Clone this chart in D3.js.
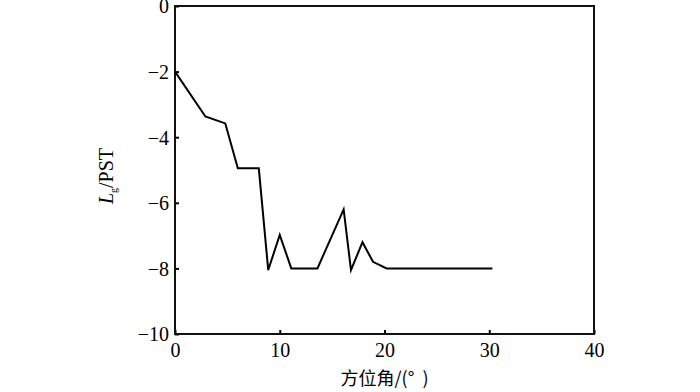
<!DOCTYPE html>
<meta charset="utf-8">
<html>
<head>
<script src="https://d3js.org/d3.v7.min.js"></script>
<style>
  body { margin: 0; background: #fff; }
</style>
</head>
<body>
<div id="chart"></div>
<script>
// azimuth (deg) and Lg / PST values
var azimuth = [0, 2.9, 4.8, 6, 8, 8.9, 10, 11.1, 13.6, 16.1, 16.8, 17.9, 18.9, 20.2, 30.3];
var lgValues = [-2.0, -3.37, -3.58, -4.95, -4.95, -8.05, -6.98, -8, -8, -6.2, -8.05, -7.2, -7.8, -8, -8];
var xTicks = [0, 10, 20, 30, 40];
var yTicks = [0, -2, -4, -6, -8, -10];

var W = 700, H = 392,
    margin = { top: 6, right: 106, bottom: 58, left: 175 },
    width = W - margin.left - margin.right,
    height = H - margin.top - margin.bottom;

var svg = d3.select("#chart").append("svg")
    .attr("width", W)
    .attr("height", H);

var g = svg.append("g")
    .attr("transform", "translate(" + margin.left + "," + margin.top + ")");

var x = d3.scaleLinear().domain([0, 40]).range([0, width]);
var y = d3.scaleLinear().domain([-10, 0]).range([height, 0]);

var fmt = function(d) { return d < 0 ? "\u2212" + Math.abs(d) : String(d); };

// bottom axis, ticks inside
var xAxis = g.append("g")
    .attr("transform", "translate(0," + height + ")")
    .call(d3.axisBottom(x).tickValues(xTicks).tickSize(-4).tickPadding(9).tickFormat(fmt))
    .attr("font-family", "Liberation Serif")
    .attr("font-size", 20);

var yAxis = g.append("g")
    .call(d3.axisLeft(y).tickValues(yTicks).tickSize(-4).tickPadding(6).tickFormat(fmt))
    .attr("font-family", "Liberation Serif")
    .attr("font-size", 20);

xAxis.select(".domain").remove();
yAxis.select(".domain").remove();
g.selectAll(".tick line").attr("stroke", "#000").attr("stroke-width", 2);
g.selectAll(".tick text").attr("fill", "#000");
yAxis.selectAll(".tick text").attr("dy", "0.34em");

// frame
g.append("rect")
    .attr("x", 0).attr("y", 0)
    .attr("width", width).attr("height", height)
    .attr("fill", "none")
    .attr("stroke", "#111")
    .attr("stroke-width", 2);

var line = d3.line()
    .x(function(d, i) { return x(azimuth[i]); })
    .y(function(d) { return y(d); });

g.append("path")
    .datum(lgValues)
    .attr("d", line)
    .attr("fill", "none")
    .attr("stroke", "#000")
    .attr("stroke-width", 2)
    .attr("stroke-linejoin", "miter");

// axis titles
svg.append("text")
    .attr("x", margin.left + width / 2)
    .attr("y", 385)
    .attr("text-anchor", "middle")
    .attr("font-family", "Noto Sans CJK SC")
    .attr("font-size", 18)
    .text("方位角/(°\u00a0\u00a0)");

var yl = svg.append("text")
    .attr("transform", "translate(113,176) rotate(-90)")
    .attr("text-anchor", "middle")
    .attr("font-family", "Liberation Serif")
    .attr("font-size", 20);
yl.append("tspan").attr("font-style", "italic").text("L");
yl.append("tspan").attr("dy", 4).attr("font-size", 10).text("g");
yl.append("tspan").attr("dy", -4).text("/PST");
</script>
</body>
</html>
